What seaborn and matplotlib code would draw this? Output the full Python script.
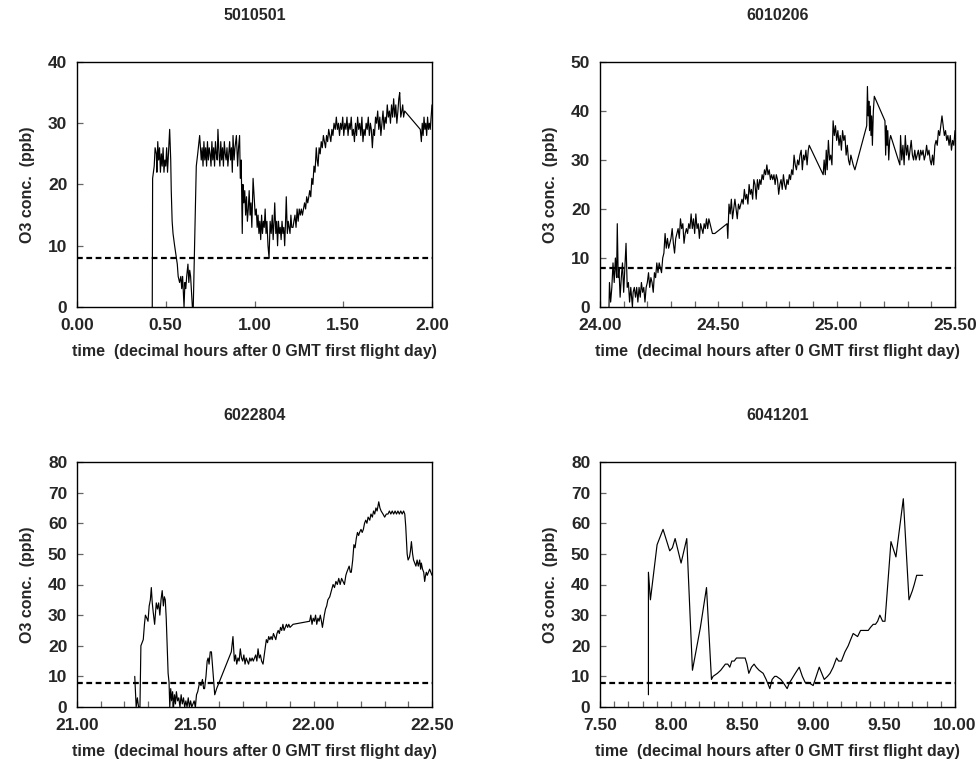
import numpy as np
import pandas as pd
import matplotlib
matplotlib.use("Agg")
import matplotlib.pyplot as plt
import seaborn as sns
from matplotlib.ticker import MultipleLocator, FormatStrFormatter

# %%
# O3 records
threshold = 8

flight1_id = "5010501"
flight1_t = [0.424, 0.426, 0.435, 0.44, 0.447, 0.45, 0.455, 0.46, 0.465, 0.47, 0.475, 0.48, 0.485, 0.49,
             0.495, 0.50, 0.505, 0.51, 0.515, 0.522, 0.528, 0.531, 0.536, 0.541, 0.55, 0.56, 0.565, 0.57,
             0.578, 0.585, 0.59, 0.595, 0.603, 0.608, 0.613, 0.618, 0.625, 0.63, 0.635, 0.64, 0.65, 0.655,
             0.672, 0.68, 0.691, 0.70, 0.705, 0.71, 0.715, 0.72, 0.725, 0.73, 0.735, 0.74, 0.745, 0.75,
             0.755, 0.76, 0.765, 0.77, 0.775, 0.78, 0.785, 0.79, 0.794, 0.80, 0.805, 0.81, 0.815, 0.82,
             0.825, 0.83, 0.835, 0.84, 0.845, 0.85, 0.855, 0.86, 0.865, 0.87, 0.875, 0.879, 0.885, 0.89,
             0.898, 0.905, 0.91, 0.916, 0.92, 0.925, 0.931, 0.935, 0.94, 0.945, 0.95, 0.955, 0.96, 0.965,
             0.97, 0.975, 0.98, 0.985, 0.992, 0.998, 1.004, 1.01, 1.015, 1.02, 1.025, 1.03, 1.035, 1.04,
             1.045, 1.05, 1.055, 1.06, 1.065, 1.07, 1.076, 1.082, 1.088, 1.094, 1.10, 1.105, 1.11, 1.114,
             1.12, 1.125, 1.13, 1.135, 1.14, 1.145, 1.15, 1.155, 1.16, 1.165, 1.17, 1.175, 1.179, 1.185,
             1.19, 1.195, 1.20, 1.205, 1.21, 1.217, 1.222, 1.228, 1.234, 1.24, 1.246, 1.252, 1.258, 1.264,
             1.27, 1.276, 1.282, 1.288, 1.294, 1.30, 1.306, 1.311, 1.317, 1.323, 1.329, 1.335, 1.341, 1.348,
             1.353, 1.358, 1.364, 1.37, 1.376, 1.382, 1.388, 1.394, 1.40, 1.406, 1.412, 1.418, 1.424, 1.43,
             1.436, 1.442, 1.448, 1.455, 1.461, 1.467, 1.473, 1.479, 1.485, 1.491, 1.497, 1.503, 1.509,
             1.515, 1.521, 1.527, 1.533, 1.539, 1.545, 1.551, 1.557, 1.563, 1.569, 1.575, 1.581, 1.587,
             1.593, 1.599, 1.605, 1.611, 1.617, 1.623, 1.629, 1.635, 1.641, 1.647, 1.653, 1.658, 1.664,
             1.67, 1.676, 1.682, 1.688, 1.694, 1.70, 1.706, 1.712, 1.718, 1.724, 1.73, 1.736, 1.742, 1.748,
             1.754, 1.76, 1.766, 1.772, 1.778, 1.784, 1.79, 1.796, 1.802, 1.808, 1.813, 1.818, 1.824, 1.83,
             1.835, 1.84, 1.846, 1.934, 1.94, 1.945, 1.95, 1.955, 1.96, 1.965, 1.97, 1.975, 1.98, 1.985,
             1.99, 1.995, 2.0]
flight1_o3 = [0, 21, 23, 26, 25, 22, 27, 24, 26, 22, 25, 23, 26, 22,
              24, 23, 26, 22, 25, 29, 24, 19, 14, 12, 10, 8, 7, 5,
              4, 5, 3, 5, 0, 4, 3, 5, 7, 4, 6, 5, 0, 0,
              23, 25, 28, 24, 26, 23, 27, 24, 26, 23, 27, 24, 26, 25,
              23, 27, 24, 26, 23, 27, 25, 24, 29, 25, 23, 27, 24, 26,
              23, 27, 25, 24, 26, 23, 25, 27, 24, 26, 22, 28, 24, 26,
              28, 23, 26, 28, 21, 24, 12, 20, 17, 19, 15, 18, 14, 16,
              19, 15, 17, 13, 21, 18, 15, 16, 13, 15, 12, 14, 11, 15,
              12, 14, 13, 16, 12, 14, 10, 8, 14, 12, 15, 11, 14, 17,
              12, 14, 10, 14, 12, 13, 11, 14, 12, 13, 10, 14, 18, 12,
              14, 13, 12, 15, 13, 13, 14, 15, 13, 16, 14, 16, 15, 16,
              15, 16, 17, 16, 18, 17, 18, 19, 18, 21, 20, 23, 22, 26,
              24, 23, 26, 25, 27, 26, 28, 27, 26, 28, 27, 29, 28, 27,
              29, 28, 30, 29, 31, 29, 30, 28, 30, 29, 31, 28, 30,
              29, 31, 28, 30, 29, 31, 28, 29, 27, 30, 28, 31, 29,
              30, 28, 31, 27, 29, 28, 30, 29, 31, 28, 30, 29, 26,
              29, 28, 31, 30, 32, 29, 31, 28, 30, 32, 29, 31, 30, 33,
              31, 32, 30, 33, 31, 34, 31, 33, 30, 32, 34, 35, 31, 32,
              33, 31, 32, 29, 27, 30, 28, 31, 29, 30, 28, 31, 29, 30,
              29, 31, 33]

flight2_id = "6010206"
flight2_t = [24.038, 24.04, 24.045, 24.05, 24.055, 24.06, 24.065, 24.07, 24.073, 24.077, 24.08, 24.085, 24.09,
             24.095, 24.10, 24.105, 24.11, 24.115, 24.12, 24.125, 24.13, 24.137, 24.14, 24.145, 24.15,
             24.155, 24.16, 24.165, 24.17, 24.175, 24.18, 24.185, 24.19, 24.195, 24.20, 24.205, 24.21,
             24.215, 24.22, 24.225, 24.23, 24.235, 24.24, 24.245, 24.25, 24.255, 24.26, 24.265, 24.27,
             24.275, 24.28, 24.285, 24.29, 24.295, 24.30, 24.305, 24.31, 24.315, 24.32, 24.325, 24.33,
             24.335, 24.34, 24.345, 24.35, 24.355, 24.36, 24.365, 24.37, 24.375, 24.38, 24.385, 24.39,
             24.395, 24.40, 24.405, 24.41, 24.415, 24.42, 24.425, 24.43, 24.435, 24.44, 24.445, 24.45,
             24.455, 24.46, 24.465, 24.47, 24.475, 24.485, 24.537, 24.54, 24.545, 24.55, 24.555, 24.56,
             24.565, 24.57, 24.575, 24.58, 24.585, 24.59, 24.595, 24.60, 24.605, 24.61, 24.615, 24.62,
             24.625, 24.63, 24.635, 24.64, 24.645, 24.65, 24.655, 24.66, 24.665, 24.67, 24.675, 24.68,
             24.685, 24.69, 24.695, 24.70, 24.705, 24.71, 24.715, 24.72, 24.725, 24.73, 24.735, 24.74,
             24.745, 24.75, 24.755, 24.76, 24.765, 24.77, 24.775, 24.78, 24.785, 24.79, 24.795, 24.80,
             24.805, 24.81, 24.815, 24.82, 24.825, 24.83, 24.835, 24.84, 24.845, 24.85, 24.855, 24.86,
             24.865, 24.87, 24.875, 24.88, 24.884, 24.943, 24.947, 24.952, 24.956, 24.96, 24.965, 24.97,
             24.975, 24.98, 24.985, 24.99, 24.995, 25.0, 25.005, 25.01, 25.015, 25.02, 25.025, 25.03,
             25.035, 25.04, 25.045, 25.05, 25.055, 25.06, 25.065, 25.07, 25.077, 25.127, 25.13, 25.133,
             25.136, 25.139, 25.142, 25.145, 25.148, 25.151, 25.155, 25.159, 25.204, 25.207, 25.21,
             25.213, 25.216, 25.22, 25.224, 25.228, 25.267, 25.27, 25.275, 25.28, 25.285, 25.29, 25.295,
             25.30, 25.305, 25.31, 25.315, 25.32, 25.325, 25.33, 25.335, 25.34, 25.345, 25.35, 25.355,
             25.36, 25.365, 25.37, 25.375, 25.38, 25.385, 25.39, 25.395, 25.40, 25.405, 25.41, 25.415,
             25.42, 25.425, 25.43, 25.435, 25.44, 25.445, 25.45, 25.455, 25.46, 25.465, 25.47, 25.475,
             25.48, 25.485, 25.49, 25.495, 25.50]
flight2_o3 = [0, 5, 1, 4, 9, 5, 10, 6, 17, 6, 8, 2, 6,
              9, 3, 8, 13, 4, 5, 1, 4, 0, 3, 4, 2,
              4, 1, 4, 2, 5, 3, 4, 1, 4, 5, 7, 4,
              6, 5, 3, 7, 6, 9, 7, 9, 8, 7, 10, 11,
              15, 12, 14, 12, 13, 14, 16, 13, 11, 14, 15, 16,
              14, 18, 16, 17, 13, 15, 16, 15, 17, 16, 19, 16,
              18, 15, 19, 16, 17, 14, 17, 16, 15, 17, 16, 18,
              16, 18, 17, 16, 15, 15, 17, 14, 21, 19, 22, 18,
              20, 22, 20, 18, 21, 20, 21, 22, 21, 24, 22, 23,
              21, 25, 23, 24, 22, 26, 25, 22, 26, 24, 26, 25,
              27, 26, 28, 27, 29, 27, 28, 26, 27, 26, 27, 25,
              27, 26, 23, 25, 26, 24, 27, 25, 24, 26, 25, 27,
              26, 28, 27, 31, 29, 28, 30, 29, 31, 32, 28, 31,
              30, 32, 29, 32, 33, 27, 30, 27, 32, 28, 34, 30,
              31, 29, 38, 35, 37, 34, 36, 33, 35, 32, 36, 34,
              35, 31, 33, 30, 29, 31, 30, 29, 28, 37, 45, 39,
              42, 36, 41, 35, 39, 33, 40, 43, 38, 31, 37,
              33, 36, 30, 34, 35, 29, 35, 30, 33, 29, 35, 31,
              33, 30, 32, 34, 31, 30, 32, 30, 31, 32, 30, 32,
              31, 32, 30, 31, 33, 31, 32, 30, 29, 31, 29, 33,
              34, 33, 36, 35, 37, 39, 37, 35, 36, 34, 35, 33,
              35, 32, 34, 33, 36]

flight3_id = "6022804"
flight3_t = [21.244, 21.25, 21.255, 21.26, 21.266, 21.27, 21.275, 21.28, 21.285, 21.289, 21.295, 21.30,
             21.305, 21.31, 21.314, 21.318, 21.322, 21.328, 21.335, 21.34, 21.345, 21.35, 21.355, 21.36,
             21.365, 21.369, 21.373, 21.377, 21.385, 21.389, 21.392, 21.396, 21.40, 21.404, 21.408,
             21.412, 21.416, 21.42, 21.425, 21.43, 21.435, 21.44, 21.445, 21.45, 21.455, 21.46, 21.465,
             21.47, 21.475, 21.48, 21.485, 21.49, 21.495, 21.50, 21.505, 21.51, 21.518, 21.524, 21.53,
             21.535, 21.539, 21.545, 21.55, 21.554, 21.558, 21.563, 21.568, 21.574, 21.582, 21.59,
             21.652, 21.659, 21.665, 21.67, 21.675, 21.68, 21.685, 21.69, 21.695, 21.70, 21.705, 21.71,
             21.715, 21.72, 21.725, 21.73, 21.735, 21.74, 21.745, 21.75, 21.755, 21.76, 21.765, 21.77,
             21.775, 21.78, 21.786, 21.80, 21.805, 21.81, 21.815, 21.82, 21.825, 21.83, 21.835, 21.84,
             21.845, 21.85, 21.855, 21.86, 21.865, 21.87, 21.875, 21.88, 21.885, 21.89, 21.895, 21.90,
             21.913, 21.983, 21.988, 21.993, 21.998, 22.003, 22.008, 22.013, 22.018, 22.023, 22.028,
             22.033, 22.037, 22.045, 22.05, 22.055, 22.06, 22.068, 22.075, 22.082, 22.088, 22.094,
             22.10, 22.106, 22.112, 22.118, 22.124, 22.13, 22.136, 22.14, 22.145, 22.15, 22.155, 22.159,
             22.165, 22.17, 22.175, 22.18, 22.185, 22.19, 22.194, 22.20, 22.205, 22.21, 22.215, 22.22,
             22.225, 22.23, 22.237, 22.242, 22.248, 22.253, 22.258, 22.263, 22.268, 22.275, 22.28,
             22.285, 22.293, 22.30, 22.307, 22.314, 22.32, 22.326, 22.332, 22.338, 22.344, 22.35,
             22.356, 22.362, 22.368, 22.374, 22.38, 22.385, 22.389, 22.395, 22.399, 22.405, 22.409,
             22.413, 22.418, 22.422, 22.427, 22.432, 22.437, 22.442, 22.448, 22.452, 22.455, 22.46,
             22.465, 22.469, 22.473, 22.476, 22.48, 22.485, 22.49, 22.495, 22.50]
flight3_o3 = [10, 0, 3, 0, 0, 20, 21, 22, 27, 30, 29, 28,
              33, 35, 39, 34, 31, 27, 34, 32, 34, 30, 35, 38,
              33, 36, 35, 29, 11, 8, 0, 6, 2, 5, 0,
              4, 1, 5, 2, 3, 0, 4, 1, 3, 0, 2, 0,
              3, 0, 2, 0, 1, 2, 0, 4, 5, 8, 7, 9,
              6, 6, 10, 15, 16, 14, 18, 18, 12, 4, 6,
              18, 23, 15, 17, 14, 16, 15, 19, 16, 15, 17, 14,
              16, 15, 14, 16, 15, 16, 15, 16, 17, 15, 19, 16,
              17, 15, 14, 22, 21, 23, 22, 23, 22, 24, 23, 22,
              24, 25, 24, 26, 25, 27, 25, 26, 27, 26, 27, 26,
              27, 28, 30, 27, 29, 28, 30, 27, 29, 28, 30,
              28, 26, 30, 32, 33, 35, 36, 38, 40, 39, 41,
              40, 42, 40, 42, 41, 40, 43, 44, 45, 46, 44, 44,
              48, 53, 52, 55, 57, 56, 57, 58, 57, 58, 60, 61,
              60, 62, 61, 63, 62, 64, 63, 65, 64, 67, 65,
              64, 63, 62, 63, 63, 64, 63, 64, 63, 64, 63,
              64, 63, 64, 63, 64, 63, 59, 50, 48, 49, 51,
              54, 50, 48, 47, 46, 48, 46, 48, 45, 47, 45,
              44, 41, 43, 44, 43, 44, 45, 44, 43]

flight4_id = "6041201"
flight4_t = [7.841, 7.841, 7.855, 7.902, 7.944, 7.991, 8.01, 8.029, 8.071, 8.111, 8.151, 8.207, 8.25,
             8.285, 8.296, 8.327, 8.35, 8.383, 8.40, 8.414, 8.428, 8.445, 8.461, 8.522, 8.535, 8.548,
             8.567, 8.585, 8.60, 8.62, 8.649, 8.67, 8.696, 8.712, 8.73, 8.743, 8.773, 8.79, 8.818, 8.835,
             8.849, 8.875, 8.903, 8.925, 8.945, 8.97, 9.001, 9.044, 9.079, 9.102, 9.12, 9.142, 9.166,
             9.18, 9.2, 9.225, 9.248, 9.265, 9.283, 9.314, 9.335, 9.389, 9.405, 9.424, 9.44, 9.455,
             9.471, 9.49, 9.507, 9.549, 9.584, 9.636, 9.676, 9.7, 9.713, 9.73, 9.772]
flight4_o3 = [4, 44, 35, 53, 58, 51, 52, 55, 47, 55, 12, 26, 39,
              9, 10, 11, 12, 14, 14, 13, 15, 15, 16, 16, 14, 11,
              13, 14, 13, 12, 11, 9, 6, 9, 10, 10, 9, 8, 6, 8,
              9, 11, 13, 10, 8, 8, 7, 13, 9, 10, 11, 13, 16,
              15, 15, 18, 20, 22, 24, 23, 25, 25, 26, 27, 27, 28,
              30, 28, 28, 54, 49, 68, 35, 38, 40, 43, 43]

x_ranges = [(0.0, 2.0), (24.0, 25.5), (21.0, 22.5), (7.5, 10.0)]
y_tops = [40, 50, 80, 80]
minor_steps = [0.5, 0.1, 0.1, 0.1]

# %%
sns.set_theme(style="white")
plt.rcParams['font.family'] = ['Liberation Sans', 'DejaVu Sans']
plt.rcParams['font.weight'] = 'bold'
plt.rcParams['axes.labelweight'] = 'bold'

fig = plt.figure(figsize=(9.77, 7.6), dpi=100)
W, H = 977.0, 760.0
boxes = [(77, 62), (600, 62), (77, 462), (600, 462)]
title_y = [15, 416]

flights = [(flight1_id, flight1_t, flight1_o3), (flight2_id, flight2_t, flight2_o3),
           (flight3_id, flight3_t, flight3_o3), (flight4_id, flight4_t, flight4_o3)]

for i, (fid, t, o3) in enumerate(flights):
    left, top = boxes[i]
    ax = fig.add_axes([left / W, 1 - (top + 245) / H, 355 / W, 245 / H])
    df = pd.DataFrame({'time': t, 'o3': o3})
    sns.lineplot(data=df, x='time', y='o3', sort=False, estimator=None,
                 color='black', lw=0.85, ax=ax)
    ax.axhline(threshold, color='black', lw=1.6, ls=(0, (2.6, 1.6)))
    ax.set_xlim(*x_ranges[i])
    ax.set_ylim(0, y_tops[i])
    ax.xaxis.set_major_locator(MultipleLocator(0.5))
    ax.xaxis.set_minor_locator(MultipleLocator(minor_steps[i]))
    ax.xaxis.set_major_formatter(FormatStrFormatter('%.2f'))
    ax.yaxis.set_major_locator(MultipleLocator(10))
    ax.tick_params(axis='both', which='both', direction='in', length=4, width=0.9,
                   color='#666666', labelsize=12.5, bottom=True, left=True)
    ax.tick_params(axis='x', which='both', pad=8)
    ax.tick_params(axis='y', which='both', pad=7)
    for s in ax.spines.values():
        s.set_color('black')
        s.set_linewidth(1.0)
    ax.set_xlabel("time  (decimal hours after 0 GMT first flight day)", fontsize=11.5, labelpad=8)
    ax.set_ylabel("O3 conc.  (ppb)", fontsize=11.5, labelpad=9)
    fig.text((left + 177.5) / W, 1 - title_y[i // 2] / H, fid, ha='center', va='center',
             fontsize=11.5, fontweight='bold')

fig.savefig('out.png', dpi=100)
